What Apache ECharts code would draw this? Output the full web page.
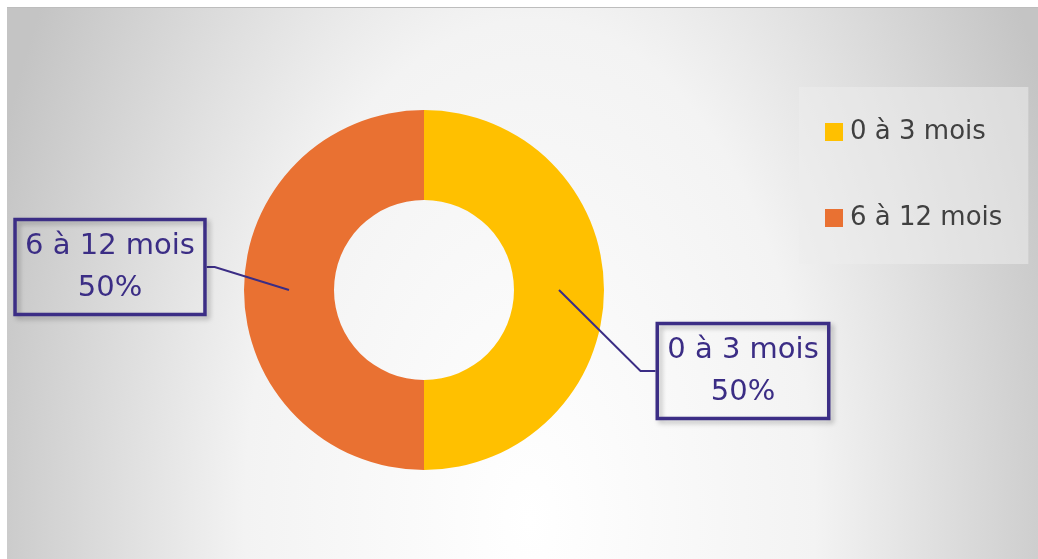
<!DOCTYPE html>
<html>
<head>
<meta charset="utf-8">
<script src="https://cdn.jsdelivr.net/npm/echarts@6/dist/echarts.min.js"></script>
<style>
  html, body { margin: 0; padding: 0; background: #ffffff; width: 1038px; height: 559px; overflow: hidden; }
  #bg { position: absolute; left: 7px; top: 7px; width: 1031px; height: 552px; border-top: 1px solid #bdbdbd;
        background: radial-gradient(570px 1000px at 523px 512px, #ffffff 0%, #f3f3f3 50%, #c4c4c4 100%); }
  #main { position: absolute; left: 0; top: 0; width: 1038px; height: 559px; }
</style>
</head>
<body>
<div id="bg"></div>
<div id="main"></div>
<script>
const categories = ['0 à 3 mois', '6 à 12 mois'];
const values = [50, 50];
const colors = ['#FFC000', '#E97132'];

const CX = 424, CY = 290, R0 = 90, R1 = 180;
// label box centres (layout)
const labelPos = [[743, 371], [110, 267]];

const chart = echarts.init(document.getElementById('main'), null, { renderer: 'canvas' });
const total = values.reduce((a, b) => a + b, 0);
const pieData = categories.map((c, i) => ({ name: c, value: values[i] }));
const FONT = '"DejaVu Sans", Inter, sans-serif';

chart.setOption({
  backgroundColor: 'transparent',
  animation: false,
  color: colors,
  legend: {
    orient: 'vertical',
    left: 799,
    top: 87,
    padding: [32, 26, 33, 26],
    backgroundColor: 'rgba(236,236,236,0.55)',
    itemWidth: 18,
    itemHeight: 18,
    itemGap: 60,
    icon: 'rect',
    data: categories,
    textStyle: { fontFamily: FONT, fontSize: 26, color: '#404040', padding: [0, 0, 0, 2] }
  },
  series: [{
    type: 'pie',
    center: [CX, CY],
    radius: [R0, R1],
    startAngle: 90,
    clockwise: true,
    silent: true,
    z: 2,
    data: pieData,
    itemStyle: { borderWidth: 0 },
    label: { show: false },
    labelLine: { show: false }
  }, {
    type: 'pie',
    center: [CX, CY],
    radius: [R0, R1],
    startAngle: 90,
    clockwise: true,
    silent: true,
    z: 3,
    data: pieData,
    itemStyle: { color: 'rgba(0,0,0,0)', borderWidth: 0 },
    label: {
      show: true,
      position: 'outside',
      formatter: '{b}\n{d}%',
      fontFamily: FONT,
      fontSize: 29,
      lineHeight: 42,
      color: '#3B2D85',
      align: 'center',
      backgroundColor: 'rgba(255,255,255,0.01)',
      borderColor: '#3B2D85',
      borderWidth: 1.75,
      padding: [11, 10, 0, 10],
      shadowColor: 'rgba(0,0,0,0.25)',
      shadowBlur: 5,
      shadowOffsetX: 3,
      shadowOffsetY: 3
    },
    labelLine: { show: true, length: 10, length2: 10, lineStyle: { color: '#3B2D85', width: 2, opacity: 1 } },
    labelLayout: function (p) {
      const i = p.dataIndex;
      let acc = 0;
      for (let k = 0; k < i; k++) acc += values[k];
      const midFrac = (acc + values[i] / 2) / total;
      const ang = Math.PI / 2 - midFrac * 2 * Math.PI;
      const rm = (R0 + R1) / 2;
      const sx = CX + rm * Math.cos(ang);
      const sy = CY - rm * Math.sin(ang);
      const lx = labelPos[i][0], ly = labelPos[i][1];
      const w = p.labelRect.width;
      const right = lx > CX;
      const edge = right ? lx - w / 2 : lx + w / 2;
      const elbow = right ? edge - 15 : edge + 8;
      return {
        x: lx, y: ly, align: 'center', verticalAlign: 'middle',
        labelLinePoints: [[sx, sy], [elbow, ly], [edge, ly]]
      };
    }
  }]
});
</script>
</body>
</html>
